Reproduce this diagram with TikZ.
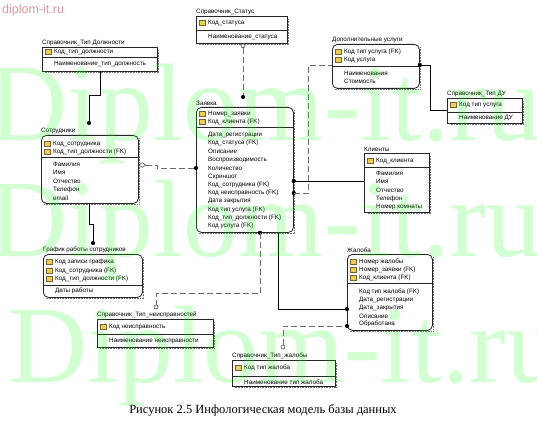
\documentclass[tikz,border=0pt]{standalone}
\usepackage{fontspec}
\setmainfont{Liberation Sans}
\newfontfamily\capfont{Liberation Serif}
\usetikzlibrary{shapes.geometric}
\definecolor{wmgreen}{RGB}{0,255,0}
\definecolor{sitec}{RGB}{226,150,158}
\definecolor{dashc}{RGB}{105,105,105}
\definecolor{keyfill}{RGB}{236,206,90}
\definecolor{keydraw}{RGB}{120,100,40}
\tikzset{
  ent/.style={draw=black!85, line width=0.8pt, fill=white, inner sep=0pt, anchor=north west},
  entr/.style={ent, rounded corners=5pt},
  shad/.style={draw=black!55, line width=1.2pt, dash pattern=on 0.8pt off 0.8pt},
  divl/.style={draw=black!85, line width=0.6pt},
  ttl/.style={anchor=south west, inner sep=0pt, font=\fontsize{6.3}{7}\selectfont},
  attr/.style={anchor=west, inner sep=0pt, font=\fontsize{6.3}{7}\selectfont},
  keyic/.style={fill=keyfill, draw=keydraw, line width=0.4pt},
  rel/.style={line width=0.8pt, draw=black},
  nrel/.style={line width=0.8pt, draw=dashc, dash pattern=on 6pt off 3pt},
  dotend/.style={circle, fill=black, inner sep=0pt, minimum size=4.2pt},
  circend/.style={circle, draw=black!80, fill=white, inner sep=0pt, minimum size=4pt, line width=0.5pt},
  diamend/.style={diamond, draw=black!80, fill=white, inner sep=0pt, minimum width=7pt, minimum height=5pt, line width=0.5pt},
  wmark/.style={anchor=base west, inner sep=0pt, text=wmgreen, text opacity=0.18, font=\capfont\fontsize{110}{110}\selectfont},
}
\newcommand\ERtable[8]{%
  \draw[shad] (#4+1.8,#3+3) -- (#4+1.8,#5+1.8) -- (#2+3,#5+1.8);
  \node[#7, minimum width=#4-#2, minimum height=#5-#3] (#1) at (#2,#3) {};
  \draw[divl] (#2,#6) -- (#4,#6);
  \node[ttl] (#1-t) at (#2,#3-1.2) {#8};
}
\newcommand\ERkey[4]{%
  \path[keyic] (#2+3,#3-2.6) rectangle (#2+9.5,#3+2.6);
  \node[attr] (#1) at (#2+12,#3) {#4};
}
\newcommand\ERatt[4]{\node[attr] (#1) at (#2+12,#3) {#4};}
\begin{document}
\begin{tikzpicture}[x=1pt,y=-1pt]
\useasboundingbox (0,0) rectangle (537,430);
\fill[white] (0,0) rectangle (537,430);

\node[anchor=west, inner sep=0pt, text=sitec, font=\fontsize{12.5}{14}\selectfont] (site) at (2,10) {diplom-it.ru};

% ---- entities
\ERtable{dolzh}{42}{47}{157}{71}{57}{ent}{Справочник\_Тип Должности}
\ERkey{dolzh-1}{42}{52}{Код\_тип\_должности}
\ERatt{dolzh-2}{42}{64}{Наименование\_тип\_должность}

\ERtable{status}{196}{16}{287}{43}{30}{ent}{Справочник\_Статус}
\ERkey{status-1}{196}{23}{Код\_статуса}
\ERatt{status-2}{196}{37}{Наименование\_статуса}

\ERtable{dopusl}{332}{44}{419}{88}{66}{entr}{Дополнительные услуги}
\ERkey{dopusl-1}{332}{52}{Код тип услуга (FK)}
\ERkey{dopusl-2}{332}{60}{Код услуга}
\ERatt{dopusl-3}{332}{73}{Наименования}
\ERatt{dopusl-4}{332}{81.5}{Стоимость}

\ERtable{tipdu}{447}{98}{522}{123}{112}{ent}{Справочник\_Тип ДУ}
\ERkey{tipdu-1}{447}{105}{Код тип услуга}
\ERatt{tipdu-2}{447}{118}{Наименование ДУ}

\ERtable{sotr}{41}{135}{138}{203}{157}{entr}{Сотрудники}
\ERkey{sotr-1}{41}{144}{Код\_сотрудника}
\ERkey{sotr-2}{41}{152}{Код\_тип\_должности (FK)}
\ERatt{sotr-3}{41}{164}{Фамилия}
\ERatt{sotr-4}{41}{172.5}{Имя}
\ERatt{sotr-5}{41}{181}{Отчество}
\ERatt{sotr-6}{41}{189.5}{Телефон}
\ERatt{sotr-7}{41}{198}{email}

\ERtable{zayavka}{196}{107}{293}{232}{127}{entr}{Заявка}
\ERkey{zay-1}{196}{113.5}{Номер\_заявки}
\ERkey{zay-2}{196}{121.5}{Код\_клиента (FK)}
\ERatt{zay-3}{196}{135}{Дата\_регистрации}
\ERatt{zay-4}{196}{143.3}{Код\_статуса (FK)}
\ERatt{zay-5}{196}{151.6}{Описание}
\ERatt{zay-6}{196}{159.9}{Воспроизводимость}
\ERatt{zay-7}{196}{168.2}{Количество}
\ERatt{zay-8}{196}{176.5}{Скриншот}
\ERatt{zay-9}{196}{184.8}{Код\_сотрудника (FK)}
\ERatt{zay-10}{196}{193.1}{Код неисправность (FK)}
\ERatt{zay-11}{196}{201.4}{Дата закрытия}
\ERatt{zay-12}{196}{209.7}{Код тип услуга (FK)}
\ERatt{zay-13}{196}{218}{Код\_тип\_должности (FK)}
\ERatt{zay-14}{196}{226.3}{Код услуга (FK)}

\ERtable{klienty}{364}{153}{429}{212}{167}{ent}{Клиенты}
\ERkey{kl-1}{364}{160.5}{Код\_клиента}
\ERatt{kl-2}{364}{173}{Фамилия}
\ERatt{kl-3}{364}{181.5}{Имя}
\ERatt{kl-4}{364}{190}{Отчество}
\ERatt{kl-5}{364}{198.5}{Телефон}
\ERatt{kl-6}{364}{207}{Номер комнаты}

\ERtable{grafik}{43}{254}{142}{297}{285}{entr}{График работы сотрудников}
\ERkey{gr-1}{43}{262}{Код записи графика}
\ERkey{gr-2}{43}{270.5}{Код\_сотрудника (FK)}
\ERkey{gr-3}{43}{279}{Код\_тип\_должности (FK)}
\ERatt{gr-4}{43}{291}{Даты работы}

\ERtable{neispr}{97}{319}{213}{347}{334}{ent}{Справочник\_Тип\_неисправностей}
\ERkey{ne-1}{97}{327}{Код неисправность}
\ERatt{ne-2}{97}{341}{Наименование неисправности}

\ERtable{zhaloba}{347}{254}{432}{330}{283}{entr}{Жалоба}
\ERkey{zh-1}{347}{262}{Номер жалобы}
\ERkey{zh-2}{347}{270}{Номер\_заявки (FK)}
\ERkey{zh-3}{347}{278}{Код\_клиента (FK)}
\ERatt{zh-4}{347}{292}{Код тип жалоба (FK)}
\ERatt{zh-5}{347}{300}{Дата\_регистрации}
\ERatt{zh-6}{347}{308}{Дата\_закрытия}
\ERatt{zh-7}{347}{316}{Описание}
\ERatt{zh-8}{347}{324}{Обработана}

\ERtable{tipzh}{232}{360}{335}{386}{376}{ent}{Справочник\_Тип\_жалобы}
\ERkey{tz-1}{232}{368}{Код тип жалоба}
\ERatt{tz-2}{232}{382}{Наименование тип жалоба}

% ---- relationships
\draw[rel] ([xshift=58pt]dolzh.south west) -- ++(0,24) -| ([xshift=48pt,yshift=12pt]sotr.north west) node[dotend] (d1) {};

\node[circend] (c2) at ([xshift=47pt,yshift=-2pt]status.south west) {};
\draw[nrel] (c2.south) -- ([xshift=47pt,yshift=10pt]zayavka.north west) node[dotend] (d2) {};

\node[diamend] (m3) at ([xshift=3.5pt,yshift=-30pt]sotr.north east) {};
\draw[nrel] (m3.east) -- ++(11,0) |- ([yshift=-61pt]zayavka.north west) node[dotend] (d3) {};

\draw[rel] ([xshift=48pt]sotr.south west) -- ++(0,21) -| ([xshift=50pt,yshift=11pt]grafik.north west) node[dotend] (d4) {};

\node[dotend] (d5) at ([yshift=-74pt]zayavka.north east) {};
\draw[rel] (d5.center) -- ([yshift=-28pt]klienty.north west);

\node[dotend] (d6) at ([yshift=-86pt]zayavka.north east) {};
\draw[nrel] (d6.center) -- ++(15,0) |- ([yshift=-21pt]dopusl.north west);

\node[dotend] (d7) at ([yshift=-21pt]dopusl.north east) {};
\draw[rel] (d7.center) -- ++(11,0) |- ([yshift=-12pt]tipdu.north west);

\node[dotend] (d8) at ([xshift=64pt]zayavka.south west) {};
\node[circend] (c8) at ([xshift=59pt,yshift=12pt]neispr.north west) {};
\draw[nrel] (d8.center) -- ++(0,61) -| (c8.north);

\draw[rel] ([xshift=82pt]zayavka.south west) |- ([yshift=-55pt]zhaloba.north west) node[dotend] (d9) {};

\node[circend] (c10) at ([xshift=51pt,yshift=13pt]tipzh.north west) {};
\draw[nrel] (c10.north) |- ([yshift=-72pt]zhaloba.north west) node[dotend] (d10) {};

% ---- caption
\node[inner sep=0pt, font=\capfont\fontsize{12.5}{14}\selectfont] (cap) at (263,410) {Рисунок 2.5 Инфологическая модель базы данных};

% ---- watermark
\node[wmark] (wm1) at (-12,141) {Diplom-it.ru};
\node[wmark] (wm2) at (-12,256) {Diplom-it.ru};
\node[wmark] (wm3) at (8,382) {Diplom-it.ru};
\end{tikzpicture}
\end{document}
